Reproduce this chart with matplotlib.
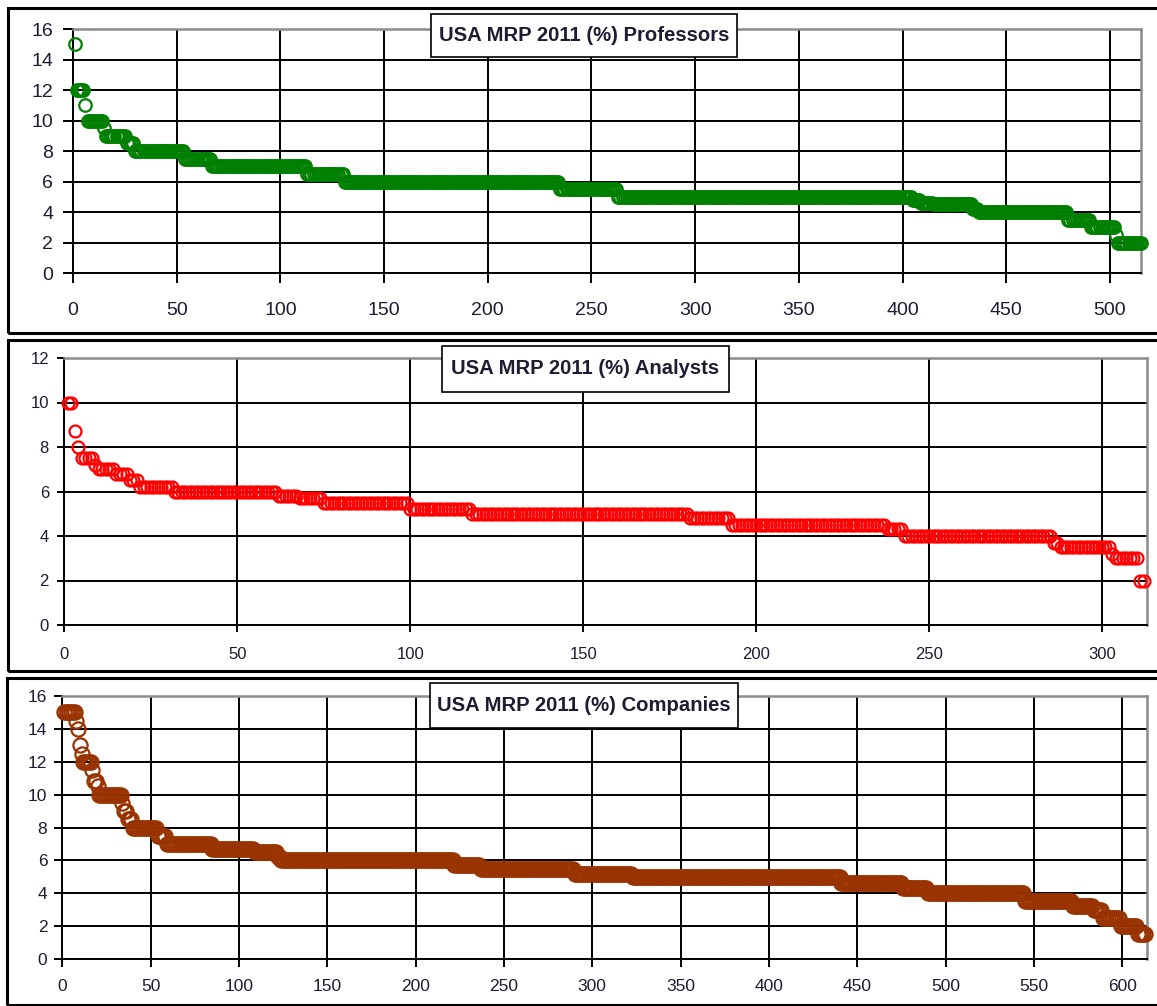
import numpy as np
import matplotlib
matplotlib.use('Agg')
import matplotlib.pyplot as plt
from matplotlib.patches import Rectangle

plt.rcParams['font.family'] = ['Liberation Sans', 'DejaVu Sans']

###########################################################
# data (sorted answers, read off the picture as runs of equal value)

prof_vals = [15, 12, 11, 10, 9.5, 9, 8.5, 8, 7.5, 7, 6.5, 6, 5.5, 5, 4.8, 4.6,
             4.5, 4.2, 4, 3.5, 3, 2.5, 2]
prof_counts = [1, 4, 1, 8, 1, 10, 4, 24, 13, 46, 18, 104, 28, 142, 4, 6,
               19, 3, 43, 11, 12, 1, 12]

ana_vals = [10, 8.7, 8, 7.5, 7.2, 7, 6.8, 6.5, 6.2, 6, 5.8, 5.7, 5.5, 5.2, 5,
            4.8, 4.5, 4.3, 4, 3.7, 3.5, 3.2, 3, 2]
ana_counts = [2, 1, 1, 4, 1, 5, 4, 3, 10, 30, 6, 7, 25, 18, 63,
              12, 45, 5, 43, 2, 15, 1, 7, 2]

comp_vals = [15, 14.5, 14, 13, 12.5, 12, 11.5, 10.8, 10.5, 10, 9.5, 9, 8.5, 8,
             7.5, 7, 6.7, 6.5, 6.2, 6, 5.7, 5.5, 5.2, 5, 4.6, 4.3, 4, 3.5, 3.2,
             3, 2.5, 2, 1.5]
comp_counts = [7, 1, 1, 1, 1, 5, 1, 2, 1, 13, 1, 2, 3, 14,
               5, 26, 24, 13, 2, 98, 15, 53, 33, 118, 35, 14, 55, 27, 12,
               5, 10, 10, 5]

titles = ['USA MRP 2011 (%) Professors',
          'USA MRP 2011 (%) Analysts',
          'USA MRP 2011 (%) Companies']
colors = ['#008000', '#ff0000', '#993300']

###########################################################
# layout (pixels of the 1157x1006 picture)

W, H = 1157, 1006
TXT = '#1c1c33'


def fig_box(x0, y0, x1, y1):
    return [x0 / W, 1 - y1 / H, (x1 - x0) / W, (y1 - y0) / H]


panels = [
    # plot area, chart box, title box, axis limits, tick font, marker size
    dict(plot=(73, 29, 1141, 273), box=(8, 8, 1170, 333),
         tbox=(431, 14, 737, 57), xmax=515, ymax=16, fs=14,
         tl=10, xpad=14, ypad=7, ms=9.0),
    dict(plot=(64.3, 358, 1147, 625), box=(8, 340, 1170, 671),
         tbox=(442, 346, 729, 392), xmax=313, ymax=12, fs=12,
         tl=7, xpad=11, ypad=6, ms=8.6),
    dict(plot=(62.3, 696, 1147, 959), box=(7, 678, 1170, 1005),
         tbox=(430, 683, 738, 728), xmax=614, ymax=16, fs=12.5,
         tl=8, xpad=8.5, ypad=5, ms=10.2),
]

series = [(prof_vals, prof_counts), (ana_vals, ana_counts),
          (comp_vals, comp_counts)]

###########################################################
# main program

fig = plt.figure(figsize=(W / 100, H / 100), dpi=100)
fig.patch.set_facecolor('white')

for p, (vals, counts), title, col in zip(panels, series, titles, colors):
    y = np.repeat(vals, counts)
    x = np.arange(1, len(y) + 1)

    ax = fig.add_axes(fig_box(*p['plot']))
    ax.plot(x, y, 'o', ms=p['ms'], mfc='none', mec=col, mew=1.6,
            clip_on=False, zorder=3)

    ax.set_xlim(0, p['xmax'])
    ax.set_ylim(0, p['ymax'])
    ax.set_xticks(np.arange(0, p['xmax'] + 1, 50))
    ax.set_yticks(np.arange(0, p['ymax'] + 1, 2))
    ax.grid(True, color='black', lw=1.4)
    ax.set_axisbelow(True)

    for side in ['top', 'right']:
        ax.spines[side].set_color('#8c8c8c')
        ax.spines[side].set_linewidth(1.8)
    for side in ['left', 'bottom']:
        ax.spines[side].set_color('black')
        ax.spines[side].set_linewidth(1.4)

    tl = p['tl'] * 0.72
    ax.tick_params(axis='x', length=tl, width=1.4, color='black',
                   labelsize=p['fs'], labelcolor=TXT, pad=p['xpad'])
    ax.tick_params(axis='y', length=tl, width=1.4, color='black',
                   labelsize=p['fs'], labelcolor=TXT, pad=p['ypad'])

    # chart border
    bx0, by0, bx1, by1 = p['box']
    fig.add_artist(Rectangle((bx0 / W, 1 - by1 / H), (bx1 - bx0) / W,
                             (by1 - by0) / H, transform=fig.transFigure,
                             fill=False, ec='black', lw=2.2, zorder=1))

    # title box
    tx0, ty0, tx1, ty1 = p['tbox']
    fig.add_artist(Rectangle((tx0 / W, 1 - ty1 / H), (tx1 - tx0) / W,
                             (ty1 - ty0) / H, transform=fig.transFigure,
                             fc='white', ec='black', lw=1.2, zorder=2))
    fig.text((tx0 + tx1) / 2 / W, 1 - (ty0 + ty1) / 2 / H, title,
             ha='center', va='center', fontsize=14.6, fontweight='bold',
             color=TXT, zorder=3)

fig.savefig('out.png', dpi=100, facecolor='white')
